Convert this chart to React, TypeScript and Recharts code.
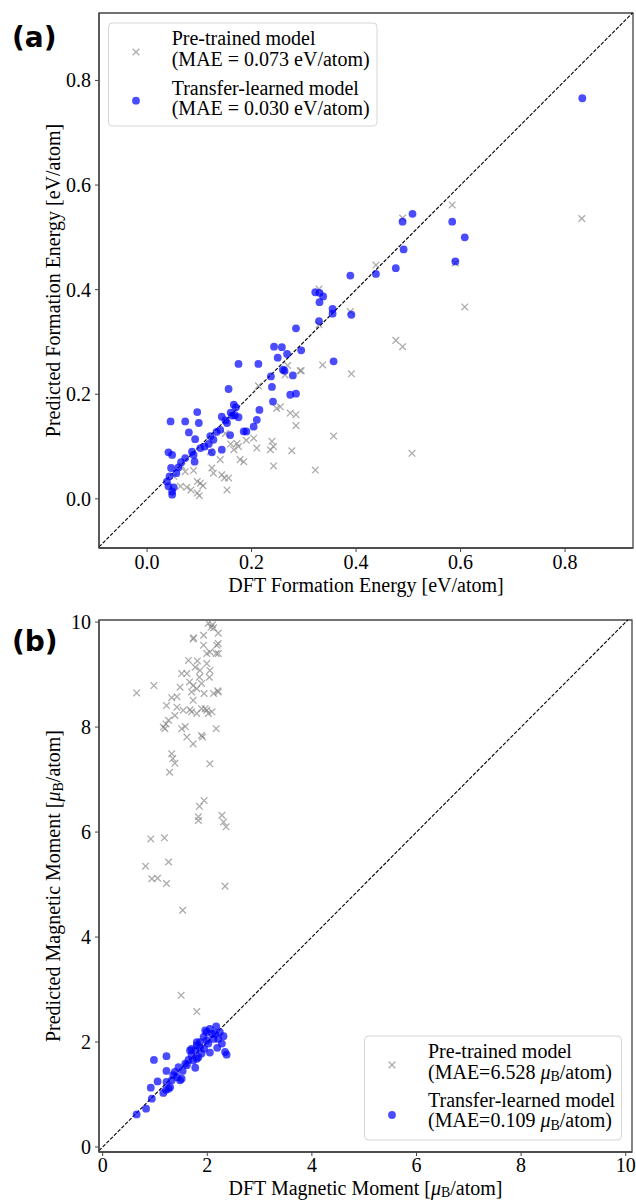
import { ReferenceArea, ReferenceLine, Scatter, ScatterChart, XAxis, YAxis } from 'recharts'

// (a) formation energy, [DFT, predicted] in eV/atom
const formationPretrained: [number, number][] = [
  [0.584, 0.562], [0.832, 0.536], [0.489, 0.537], [0.438, 0.447], [0.59, 0.451],
  [0.608, 0.367], [0.476, 0.303], [0.489, 0.291], [0.329, 0.401], [0.389, 0.358],
  [0.329, 0.333], [0.336, 0.256], [0.391, 0.239], [0.295, 0.245], [0.357, 0.12],
  [0.322, 0.055], [0.507, 0.087], [0.213, 0.216], [0.255, 0.176], [0.248, 0.173],
  [0.274, 0.164], [0.285, 0.161], [0.285, 0.14], [0.204, 0.116], [0.21, 0.097],
  [0.239, 0.11], [0.236, 0.094], [0.242, 0.1], [0.277, 0.092], [0.242, 0.063],
  [0.172, 0.106], [0.175, 0.1], [0.166, 0.094], [0.185, 0.071], [0.178, 0.075],
  [0.14, 0.075], [0.124, 0.059], [0.127, 0.049], [0.143, 0.046], [0.148, 0.04],
  [0.156, 0.04], [0.153, 0.017], [0.121, 0.09], [0.073, 0.052], [0.089, 0.054],
  [0.096, 0.033], [0.102, 0.03], [0.064, 0.024], [0.076, 0.022], [0.084, 0.017],
  [0.096, 0.011], [0.1, 0.006], [0.107, 0.025], [0.051, 0.043], [0.067, 0.062],
  [0.269, 0.255], [0.293, 0.245], [0.264, 0.237], [0.16, 0.105], [0.19, 0.112],
  [0.15, 0.125],
]

const formationTransfer: [number, number][] = [
  [0.833, 0.766], [0.508, 0.545], [0.489, 0.53], [0.584, 0.53], [0.608, 0.5],
  [0.491, 0.477], [0.59, 0.454], [0.476, 0.441], [0.389, 0.427], [0.438, 0.43],
  [0.322, 0.395], [0.33, 0.394], [0.337, 0.387], [0.33, 0.376], [0.355, 0.363],
  [0.355, 0.354], [0.391, 0.352], [0.329, 0.34], [0.295, 0.284], [0.357, 0.263],
  [0.285, 0.326], [0.243, 0.291], [0.258, 0.29], [0.268, 0.277], [0.25, 0.27],
  [0.175, 0.258], [0.213, 0.258], [0.26, 0.247], [0.263, 0.245], [0.279, 0.236],
  [0.237, 0.234], [0.156, 0.21], [0.239, 0.214], [0.241, 0.186], [0.274, 0.199],
  [0.285, 0.201], [0.215, 0.17], [0.166, 0.18], [0.096, 0.166], [0.045, 0.148],
  [0.073, 0.148], [0.099, 0.145], [0.08, 0.127], [0.092, 0.114], [0.121, 0.12],
  [0.127, 0.113], [0.14, 0.132], [0.153, 0.145], [0.163, 0.159], [0.159, 0.122],
  [0.175, 0.156], [0.185, 0.129], [0.19, 0.129], [0.21, 0.151], [0.204, 0.138],
  [0.143, 0.157], [0.102, 0.097], [0.086, 0.09], [0.089, 0.084], [0.073, 0.078],
  [0.124, 0.089], [0.143, 0.094], [0.041, 0.089], [0.048, 0.084], [0.046, 0.059],
  [0.056, 0.049], [0.043, 0.043], [0.041, 0.024], [0.051, 0.022], [0.048, 0.014],
  [0.048, 0.008], [0.038, 0.033], [0.091, 0.071], [0.11, 0.1], [0.118, 0.105],
  [0.133, 0.128], [0.15, 0.15], [0.16, 0.165], [0.17, 0.175], [0.168, 0.16],
  [0.06, 0.06], [0.065, 0.07],
]

// (b) magnetic moment, [DFT, predicted] in muB/atom
const momentPretrained: [number, number][] = [
  [0.65, 8.65], [0.98, 8.79], [1.22, 8.41], [1.32, 8.56], [1.42, 8.58], [1.48, 8.76],
  [1.42, 8.38], [1.38, 8.22], [1.26, 8.13], [1.16, 8.0], [1.19, 7.97], [1.21, 8.06],
  [1.51, 7.97], [1.58, 8.01], [1.54, 8.32], [1.67, 8.33], [1.7, 8.29], [1.8, 8.26],
  [1.61, 7.81], [1.73, 7.68], [1.32, 7.49], [1.34, 7.4], [1.38, 7.31], [1.28, 7.14],
  [1.89, 7.84], [1.91, 7.81], [2.17, 7.97], [2.05, 7.3], [1.85, 6.49], [1.94, 6.6],
  [2.28, 6.32], [1.83, 6.29], [1.61, 9.02], [1.66, 8.86], [1.73, 8.79], [1.7, 8.67],
  [1.8, 8.73], [1.73, 8.51], [1.77, 9.14], [1.81, 9.26], [1.86, 9.08], [1.85, 8.95],
  [1.89, 8.83], [1.73, 9.68], [1.74, 9.7], [1.93, 9.75], [1.93, 9.56], [1.99, 9.4],
  [2.05, 9.43], [2.02, 9.98], [2.07, 9.9], [2.12, 9.89], [2.1, 9.95], [2.21, 9.79],
  [2.18, 9.56], [2.21, 9.59], [2.17, 9.4], [2.21, 9.4], [2.05, 9.08], [2.04, 8.95],
  [1.94, 8.64], [1.96, 8.35], [1.99, 8.32], [2.02, 8.26], [2.12, 8.64], [2.21, 8.67],
  [2.2, 8.69], [2.09, 8.29], [1.89, 8.35], [1.99, 9.21], [1.64, 9.27], [1.51, 9.02],
  [1.83, 6.22], [2.31, 6.19], [2.36, 6.1], [0.92, 5.87], [1.18, 5.89], [0.82, 5.35],
  [1.26, 5.43], [0.94, 5.11], [1.05, 5.12], [1.22, 5.02], [2.34, 4.97], [1.53, 4.51],
  [1.5, 2.89], [1.8, 2.58],
]

const momentTransfer: [number, number][] = [
  [0.65, 0.62], [0.83, 0.73], [0.94, 0.92], [0.92, 1.13], [1.05, 1.25], [0.98, 1.66],
  [1.22, 1.73], [1.22, 1.45], [1.16, 1.03], [1.21, 1.09], [1.26, 1.11], [1.29, 1.14],
  [1.22, 1.24], [1.32, 1.27], [1.42, 1.33], [1.48, 1.27], [1.38, 1.43], [1.45, 1.52],
  [1.53, 1.45], [1.58, 1.59], [1.64, 1.66], [1.7, 1.75], [1.77, 1.84], [1.8, 1.94],
  [1.86, 2.0], [1.93, 2.1], [1.99, 2.19], [2.05, 2.25], [2.17, 2.3], [2.24, 2.19],
  [2.31, 2.11], [2.28, 1.97], [2.19, 1.89], [2.05, 1.8], [2.34, 1.81], [2.37, 1.76],
  [1.77, 1.51], [1.73, 1.65], [1.83, 1.71], [1.89, 1.78], [1.94, 1.87], [2.02, 1.97],
  [2.12, 2.06], [2.15, 2.16], [1.99, 2.03], [1.86, 1.9], [1.61, 1.56], [1.67, 1.84],
  [1.7, 1.87], [1.8, 2.0], [1.96, 2.22], [2.09, 2.16], [2.21, 2.06], [1.35, 1.37],
  [1.51, 1.3], [1.8, 1.68],
]

const formationTicks = [0, 0.2, 0.4, 0.6, 0.8]
const momentTicks = [0, 2, 4, 6, 8, 10]

const FONT = '"Liberation Serif", "Times New Roman", serif'
const AXIS = '#444'

const toPoints = (rows: [number, number][]) => rows.map(([x, y]) => ({ x, y }))

function CrossMark(props: any) {
  const { cx, cy } = props
  const s = 3.3
  return (
    <path
      d={`M${cx - s},${cy - s}L${cx + s},${cy + s}M${cx - s},${cy + s}L${cx + s},${cy - s}`}
      stroke="#808080"
      strokeOpacity={0.65}
      strokeWidth={1.3}
      fill="none"
    />
  )
}

function DotMark(props: any) {
  const { cx, cy } = props
  return <circle cx={cx} cy={cy} r={3.9} fill="#0000ff" fillOpacity={0.7} />
}

function MuB({ close }: { close: string }) {
  return (
    <>
      <tspan fontStyle="italic">μ</tspan>
      <tspan dy={2.5} fontSize={14}>B</tspan>
      <tspan dy={-2.5}>/atom{close}</tspan>
    </>
  )
}

const makeTick = (fmt: (v: number) => string, side: 'x' | 'y', dy: number) => (props: any) => {
  const { x, y, payload } = props
  return (
    <text
      x={x}
      y={y}
      dy={dy}
      textAnchor={side === 'x' ? 'middle' : 'end'}
      fontFamily={FONT}
      fontSize={20}
      fill="#000"
    >
      {fmt(payload.value)}
    </text>
  )
}

type PanelProps = {
  top: number
  height: number
  marginTop: number
  marginRight: number
  xAxisHeight: number
  xLabelDy: number
  xTickDy: number
  xDomain: [number, number]
  yDomain: [number, number]
  ticks: number[]
  fmt: (v: number) => string
  pretrained: [number, number][]
  transfer: [number, number][]
  xLabel: React.ReactNode
  yLabel: React.ReactNode
}

function Panel(p: PanelProps) {
  const lo = Math.max(p.xDomain[0], p.yDomain[0])
  const hi = Math.min(p.xDomain[1], p.yDomain[1])
  return (
    <div style={{ position: 'absolute', left: 0, top: p.top }}>
      <ScatterChart
        width={636}
        height={p.height}
        margin={{ top: p.marginTop, right: p.marginRight, left: 0, bottom: 0 }}
      >
        <XAxis
          type="number"
          dataKey="x"
          domain={p.xDomain}
          allowDataOverflow
          ticks={p.ticks}
          height={p.xAxisHeight}
          tick={makeTick(p.fmt, 'x', p.xTickDy)}
          tickSize={4}
          tickMargin={4}
          tickLine={{ stroke: AXIS }}
          axisLine={{ stroke: AXIS, strokeWidth: 1.3 }}
          label={(props: any) => {
            const vb = props.viewBox
            return (
              <text x={vb.x + vb.width / 2} y={vb.y + p.xLabelDy} textAnchor="middle" fontFamily={FONT} fontSize={20} fill="#000">
                {p.xLabel}
              </text>
            )
          }}
        />
        <YAxis
          type="number"
          dataKey="y"
          domain={p.yDomain}
          allowDataOverflow
          ticks={p.ticks}
          width={99}
          tick={makeTick(p.fmt, 'y', 7)}
          tickSize={4}
          tickMargin={4}
          tickLine={{ stroke: AXIS }}
          axisLine={{ stroke: AXIS, strokeWidth: 1.3 }}
          label={(props: any) => {
            const vb = props.viewBox
            const cy = vb.y + vb.height / 2
            return (
              <text x={60} y={cy} transform={`rotate(-90, 60, ${cy})`} textAnchor="middle" fontFamily={FONT} fontSize={20} fill="#000">
                {p.yLabel}
              </text>
            )
          }}
        />
        <ReferenceArea
          x1={p.xDomain[0]}
          x2={p.xDomain[1]}
          y1={p.yDomain[0]}
          y2={p.yDomain[1]}
          fill="none"
          stroke={AXIS}
          strokeWidth={1.3}
          ifOverflow="visible"
        />
        <Scatter data={toPoints(p.pretrained)} shape={CrossMark} isAnimationActive={false} />
        <Scatter data={toPoints(p.transfer)} shape={DotMark} isAnimationActive={false} />
        <ReferenceLine
          segment={[{ x: lo, y: lo }, { x: hi, y: hi }]}
          stroke="#000"
          strokeWidth={1.1}
          strokeDasharray="3.7 1.6"
          ifOverflow="visible"
        />
      </ScatterChart>
    </div>
  )
}

export default function App() {
  return (
    <div style={{ position: 'absolute', left: 0, top: 0, width: 636, height: 1200, background: '#fff', fontFamily: FONT }}>
      <Panel
        top={0}
        height={600}
        marginTop={13}
        marginRight={3}
        xAxisHeight={52}
        xLabelDy={44}
        xTickDy={13}
        xDomain={[-0.092, 0.93]}
        yDomain={[-0.094, 0.929]}
        ticks={formationTicks}
        fmt={(v) => v.toFixed(1)}
        pretrained={formationPretrained}
        transfer={formationTransfer}
        xLabel="DFT Formation Energy [eV/atom]"
        yLabel="Predicted Formation Energy [eV/atom]"
      />
      <Panel
        top={600}
        height={600}
        marginTop={20}
        marginRight={4}
        xAxisHeight={48}
        xLabelDy={42.5}
        xTickDy={12}
        xDomain={[-0.07, 10.12]}
        yDomain={[-0.095, 10.04]}
        ticks={momentTicks}
        fmt={(v) => String(v)}
        pretrained={momentPretrained}
        transfer={momentTransfer}
        xLabel={<>DFT Magnetic Moment [<MuB close="]" /></>}
        yLabel={<>Predicted Magnetic Moment [<MuB close="]" /></>}
      />

      <svg width={636} height={1200} style={{ position: 'absolute', left: 0, top: 0, pointerEvents: 'none' }}>
        <g fontFamily='"DejaVu Sans", sans-serif' fontWeight="bold" fontSize={28} fill="#000">
          <text x={12} y={47}>(a)</text>
          <text x={12} y={651}>(b)</text>
        </g>

        <g fontFamily={FONT} fontSize={20} fill="#000">
          <rect x={108.5} y={23} width={268.5} height={103} rx={4} fill="#fff" fillOpacity={0.8} stroke="#d6d6d6" />
          <CrossMark cx={136} cy={52} />
          <DotMark cx={136} cy={100.7} />
          <text x={171.7} y={45}>Pre-trained model</text>
          <text x={171.7} y={65.5}>(MAE = 0.073 eV/atom)</text>
          <text x={171.7} y={94.5}>Transfer-learned model</text>
          <text x={171.7} y={115}>(MAE = 0.030 eV/atom)</text>

          <rect x={364.5} y={1036} width={257} height={104} rx={4} fill="#fff" fillOpacity={0.8} stroke="#d6d6d6" />
          <CrossMark cx={392} cy={1065} />
          <DotMark cx={392} cy={1115} />
          <text x={428} y={1058}>Pre-trained model</text>
          <text x={428} y={1078.5}>(MAE=6.528 <MuB close=")" /></text>
          <text x={428} y={1107}>Transfer-learned model</text>
          <text x={428} y={1127}>(MAE=0.109 <MuB close=")" /></text>
        </g>
      </svg>
    </div>
  )
}
